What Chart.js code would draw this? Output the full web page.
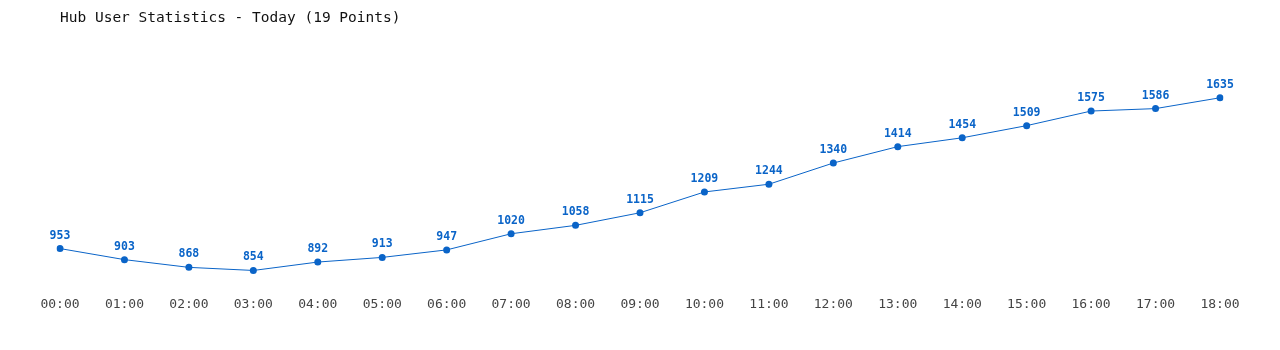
<!DOCTYPE html>
<html>
<head>
<meta charset="utf-8">
<script src="https://cdn.jsdelivr.net/npm/chart.js@4/dist/chart.umd.min.js"></script>
<style>
  html, body { margin: 0; padding: 0; background: #ffffff; }
  #wrap { width: 1280px; height: 350px; position: relative; }
</style>
</head>
<body>
<div id="wrap"><canvas id="hub-chart"></canvas></div>
<script>
// Chart data
const hours = ['00:00', '01:00', '02:00', '03:00', '04:00', '05:00', '06:00', '07:00', '08:00', '09:00',
               '10:00', '11:00', '12:00', '13:00', '14:00', '15:00', '16:00', '17:00', '18:00'];
const users = [953, 903, 868, 854, 892, 913, 947, 1020, 1058, 1115,
               1209, 1244, 1340, 1414, 1454, 1509, 1575, 1586, 1635];

const blue = '#0a64c8';
const mono = "'DejaVu Sans Mono', 'Liberation Mono', monospace";

// Value labels drawn above each point
const pointLabels = {
    id: 'pointLabels',
    afterDatasetsDraw(chart) {
        const ctx = chart.ctx;
        const meta = chart.getDatasetMeta(0);
        ctx.save();
        ctx.font = "bold 11.5px " + mono;
        ctx.fillStyle = blue;
        ctx.textAlign = 'center';
        ctx.textBaseline = 'middle';
        meta.data.forEach((pt, i) => {
            ctx.fillText(String(users[i]), pt.x, pt.y - 13);
        });
        ctx.restore();
    }
};

new Chart(document.getElementById('hub-chart'), {
    type: 'line',
    data: {
        labels: hours,
        datasets: [{
            data: users,
            borderColor: blue,
            backgroundColor: blue,
            borderWidth: 1,
            pointRadius: 3.5,
            pointHoverRadius: 3.5,
            pointBorderWidth: 0,
            tension: 0
        }]
    },
    options: {
        responsive: true,
        maintainAspectRatio: false,
        animation: false,
        layout: { padding: { left: 60, right: 60, top: 10, bottom: 24 } },
        plugins: {
            legend: { display: false },
            tooltip: { enabled: false },
            title: {
                display: true,
                text: 'Hub User Statistics - Today (19 Points)',
                align: 'start',
                color: '#111111',
                font: { family: mono, size: 14.5, weight: 'normal' },
                padding: { top: 0, bottom: 56 }
            }
        },
        scales: {
            x: {
                offset: false,
                grid: { display: false, drawTicks: false },
                border: { display: false },
                ticks: {
                    color: '#444444',
                    font: { family: mono, size: 13 },
                    padding: 14,
                    maxRotation: 0,
                    autoSkip: false
                }
            },
            y: {
                display: false,
                min: 800,
                max: 1700
            }
        }
    },
    plugins: [pointLabels]
});
</script>
</body>
</html>
